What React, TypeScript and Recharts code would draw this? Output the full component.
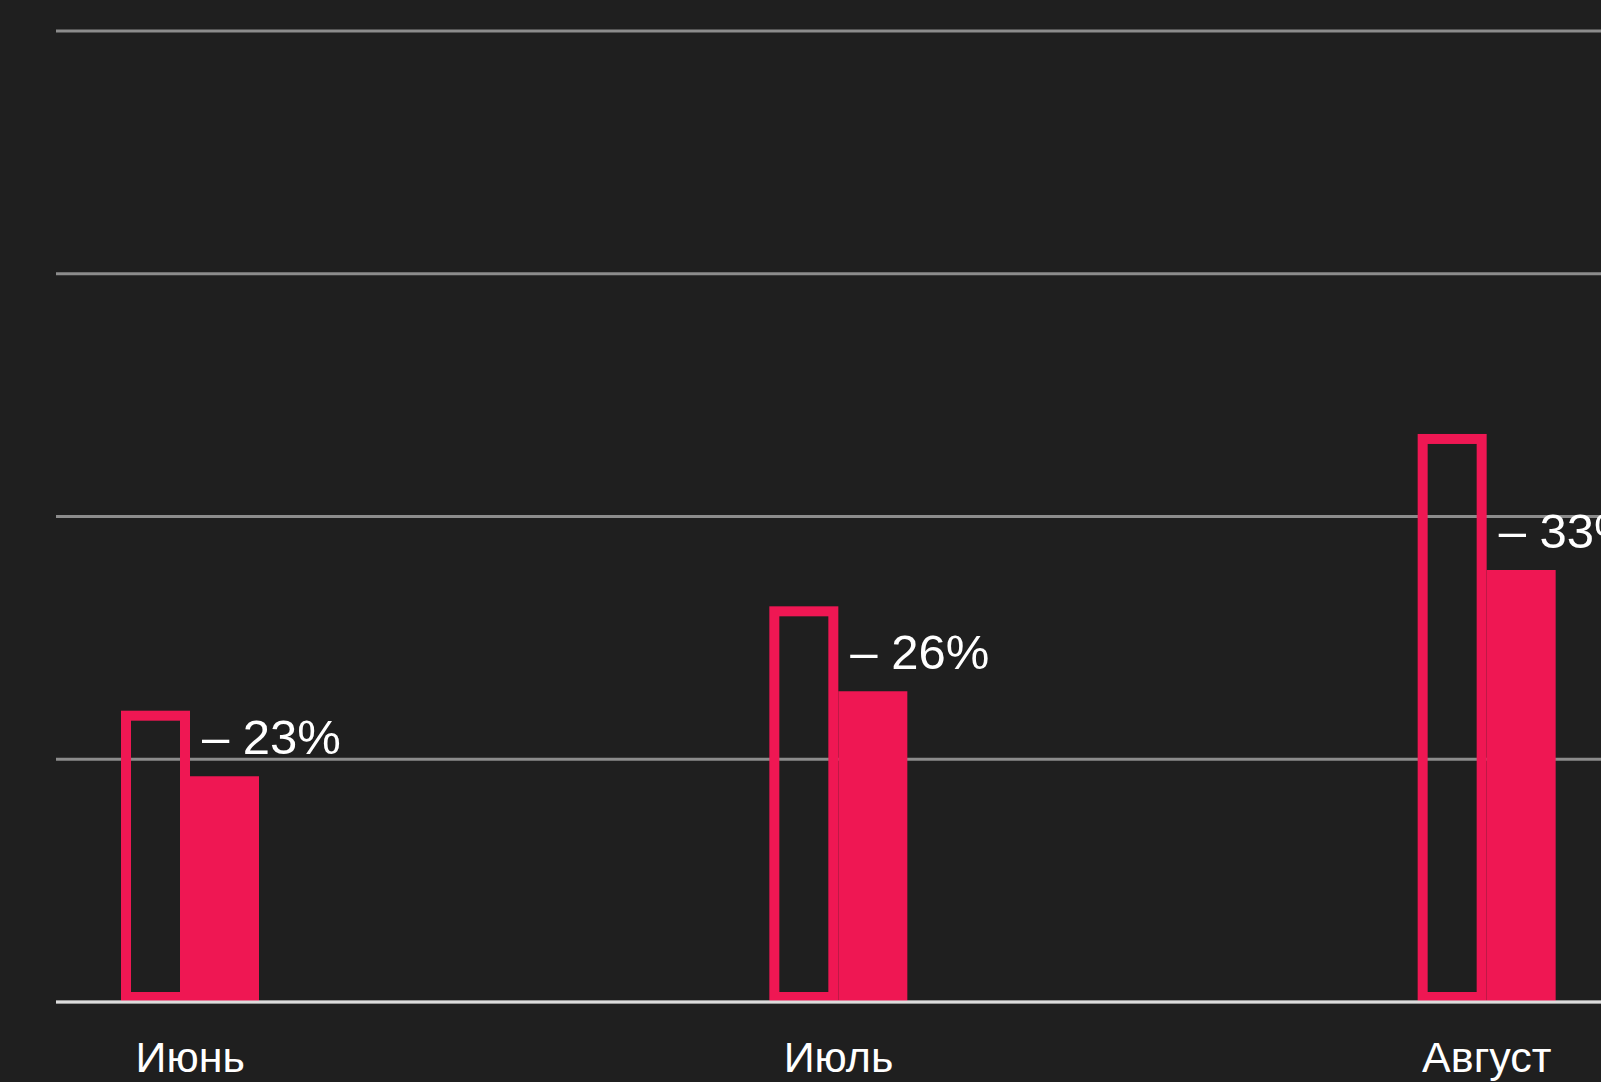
import { BarChart, Bar, XAxis, YAxis, CartesianGrid, LabelList } from 'recharts';

const months = ['Июнь', 'Июль', 'Август'];
const previous = [120, 163, 234];
const current = [93, 128, 178];
const changes = [-23, -26, -33];
const yTicks = [0, 100, 200, 300, 400];

const PINK = '#ef1753';
const FONT = '"Liberation Sans", Arial, Helvetica, sans-serif';

const data = months.map((m, i) => ({
  month: m,
  previous: previous[i],
  current: current[i],
  change: changes[i],
}));

// outlined bar: stroke kept inside the bar's box
const OutlineBar = (props: any) => {
  const { x, y, width, height } = props;
  const sw = 10;
  if (!width || !height) return null;
  return (
    <rect
      x={x + sw / 2}
      y={y + sw / 2}
      width={width - sw}
      height={height - sw}
      fill="none"
      stroke={PINK}
      strokeWidth={sw}
    />
  );
};

const ChangeLabel = (props: any) => {
  const { x, y, index } = props;
  const v = changes[index];
  return (
    <text x={x + 12} y={y - 22} fill="#ffffff" fontSize={49} fontFamily={FONT} textAnchor="start">
      {`– ${Math.abs(v)}%`}
    </text>
  );
};

export default function App() {
  return (
    <div
      style={{
        position: 'absolute',
        left: 0,
        top: 0,
        width: 1601,
        height: 1082,
        background: '#1f1f1f',
        overflow: 'hidden',
      }}
    >
      <BarChart
        width={1601}
        height={1082}
        data={data}
        margin={{ top: 31, right: 0, left: 56, bottom: 0 }}
        barGap={0}
      >
        <CartesianGrid vertical={false} stroke="#8c8c8c" strokeWidth={3} />
        <YAxis hide domain={[0, 400]} ticks={yTicks} />
        <XAxis
          dataKey="month"
          height={80}
          padding={{ left: -190, right: -210 }}
          tickLine={false}
          axisLine={{ stroke: '#dcdcdc', strokeWidth: 3 }}
          tickMargin={33}
          tick={{ fill: '#ffffff', fontSize: 43, fontFamily: FONT }}
          interval={0}
        />
        <Bar dataKey="previous" barSize={69} shape={OutlineBar} isAnimationActive={false} />
        <Bar dataKey="current" barSize={69} fill={PINK} isAnimationActive={false}>
          <LabelList dataKey="change" content={ChangeLabel} />
        </Bar>
      </BarChart>
    </div>
  );
}
